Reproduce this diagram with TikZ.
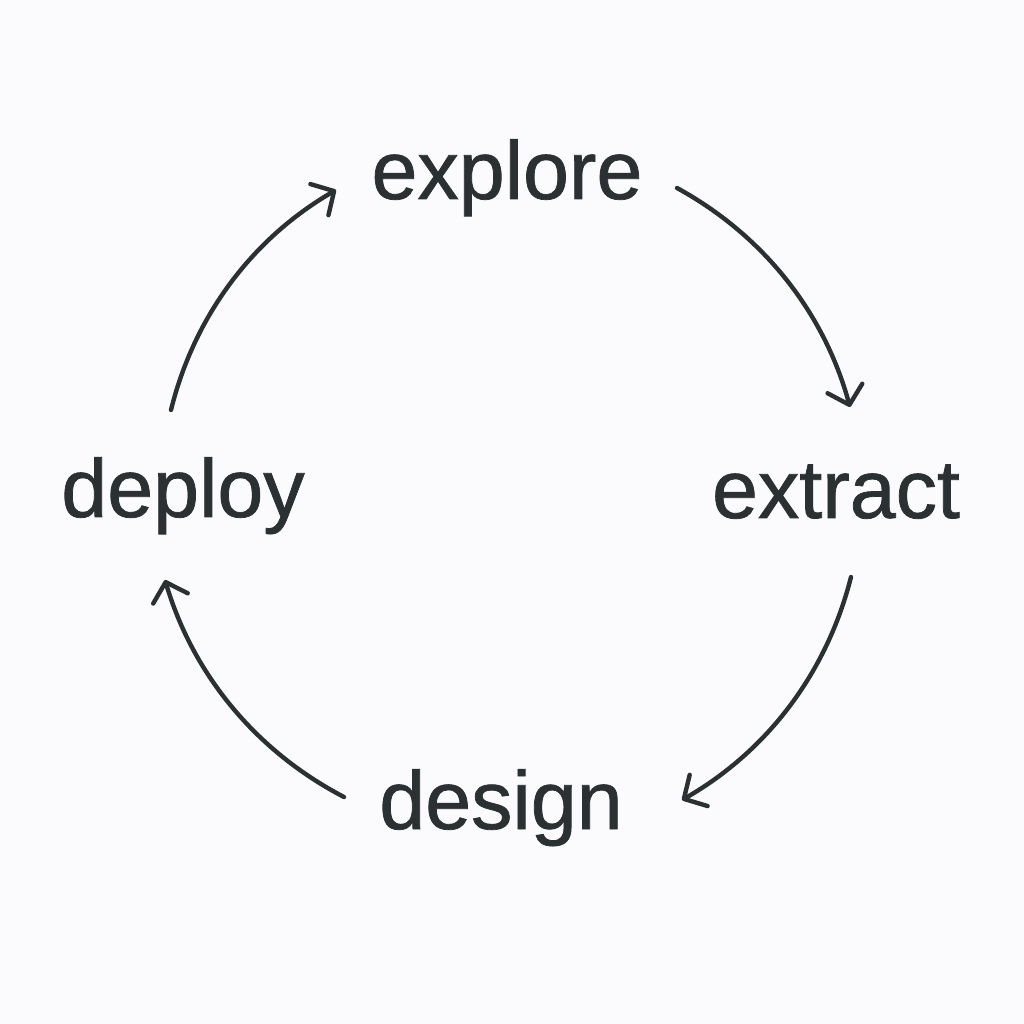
\documentclass[tikz,border=0pt]{standalone}
\usepackage{fontspec}
\setmainfont{Liberation Sans}[FakeBold=0.9]
\usepackage{tikz}
\usetikzlibrary{arrows.meta,positioning,calc}
\definecolor{PaperWhite}{RGB}{251,250,253}
\definecolor{InkGray}{RGB}{43,48,51}

\begin{document}
\begin{tikzpicture}[
    stage/.style={inner sep=0pt, anchor=base, text=InkGray, font=\fontsize{23.5}{28}\selectfont},
    arr/.style={-{Straight Barb[length=1.7mm,width=3.6mm,line cap=round,line join=round]}, line width=1.25pt, line cap=round, draw=InkGray, bend left=23, looseness=0.9}
  ]
    \fill[PaperWhite] (0,0) rectangle (10.24,10.24);
    \useasboundingbox (0,0) rectangle (10.24,10.24);

    \node[stage] (explore) at (5.07,8.25) {explore};
    \node[stage] (extract) at (8.36,5.06) {extract};
    \node[stage] (design)  at (5.01,1.95) {design};
    \node[stage] (deploy)  at (1.83,5.07) {deploy};

    \draw[arr] ([shift={(-0.12,1.07)}]deploy.base) to ([shift={(-1.71,0.09)}]explore.base);
    \draw[arr] ([shift={(1.70,0.11)}]explore.base) to ([shift={(0.14,1.11)}]extract.base);
    \draw[arr] ([shift={(0.15,-0.59)}]extract.base) to ([shift={(1.81,0.29)}]design.base);
    \draw[arr] ([shift={(-1.57,0.32)}]design.base) to ([shift={(-0.18,-0.63)}]deploy.base);
  \end{tikzpicture}
\end{document}
